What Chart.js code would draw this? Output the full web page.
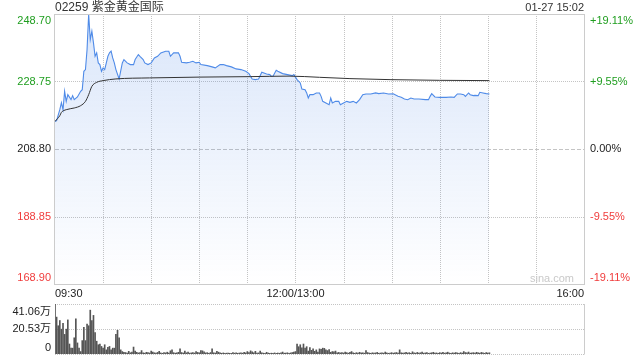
<!DOCTYPE html>
<html>
<head>
<meta charset="utf-8">
<script src="https://cdn.jsdelivr.net/npm/chart.js@4.4.1/dist/chart.umd.min.js"></script>
<style>
  body { margin: 0; background: #fff; }
  #wrap { position: relative; width: 640px; height: 360px; }
  canvas { position: absolute; left: 0; }
  #priceChart { top: 0; }
  #volumeChart { top: 300px; }
</style>
</head>
<body>
<div id="wrap">
  <canvas id="priceChart" width="640" height="300"></canvas>
  <canvas id="volumeChart" width="640" height="60"></canvas>
</div>
<script>
const TITLE = "02259 紫金黄金国际";
const STAMP = "01-27 15:02";
const PREV_CLOSE = 208.80;

// minutes after 09:30, lunch break (12:00-13:00) taken out
const timeTicks = [0, 30, 60, 90, 120, 150, 180, 210, 240, 270, 300, 330];
const timeLabelMinutes = [0, 150, 330];
const timeLabelTexts = ["09:30", "12:00/13:00", "16:00"];

const priceTicks = [168.90, 188.85, 208.80, 228.75, 248.70];
const percentLabels = ["-19.11%", "-9.55%", "0.00%", "+9.55%", "+19.11%"];

const volumeTicks = [0, 20.53, 41.06];
const volumeLabels = ["0", "20.53万", "41.06万"];

const priceMinutes = [0,1,3,4,5,6,7,8,10,11,12,14,16,17,18,19,20,21,22,23,24,25,26,27,28,29,30,31,33,34,
  35,36,37,38,40,42,43,45,47,49,50,52,53,55,56,58,60,62,64,66,69,71,72,74,77,78,79,82,84,86,
  88,90,91,95,98,100,103,105,107,110,113,116,119,121,123,125,127,129,132,134,135,136,138,139,142,145,148,149,151,153,
  154,156,157,158,159,161,163,165,166,167,169,171,172,173,175,177,178,180,182,184,186,188,190,192,194,197,200,202,205,208,
  211,214,216,218,220,222,224,227,231,233,234,235,237,240,244,247,249,251,253,255,256,258,259,261,262,264,265,267,269,271];
const prices = [216.95,217.17,220.42,222.49,220.42,225.84,222.88,224.86,223.38,224.57,223.38,224.18,225.84,226.34,231.76,232.27,238.19,248.60,241.15,243.61,
  240.17,236.20,237.21,234.25,233.75,231.76,232.77,232.27,236.20,237.21,237.70,235.73,234.25,232.27,229.51,234.25,235.23,234.25,233.75,233.75,
  235.23,236.71,236.20,235.23,234.25,233.75,234.25,235.73,236.20,237.21,237.70,237.70,236.20,237.21,237.21,236.20,234.43,234.25,234.43,234.72,
  234.25,234.43,233.75,233.45,233.07,232.77,233.75,233.75,233.45,233.07,232.47,232.27,231.76,231.08,229.51,229.30,229.51,231.47,230.99,230.79,
  230.28,230.28,232.06,231.76,231.08,230.79,230.49,230.79,229.30,228.33,226.55,226.34,225.37,223.88,224.86,224.86,225.37,225.37,224.36,222.88,
  222.40,221.90,223.88,222.40,222.88,222.88,221.90,222.40,222.88,222.59,222.88,222.40,223.38,224.86,225.07,225.07,225.37,225.16,225.37,225.07,
  225.10,224.36,224.07,223.59,223.38,223.88,223.59,223.59,223.38,223.38,224.36,225.16,224.18,224.07,224.07,224.18,224.07,225.07,225.07,224.86,
  224.36,225.37,224.86,224.57,224.66,224.57,225.55,225.37,225.16,225.07];

const avgMinutes = [0,3,4,7,12,16,19,21,23,26,30,38,59,90,122,146,165,184,209,240,271];
const avgPrices = [216.95,218.65,219.62,220.42,220.92,221.61,222.88,224.86,227.32,228.50,229.01,229.51,229.81,230.05,230.19,230.34,229.99,229.60,229.30,229.10,229.01];

// volume per minute, in 万
const volumes = [
  41.06,30.3,23.2,27.5,20.4,25.2,16.1,20.4,28.0,8.2,4.8,4.8,13.3,28.9,9.1,4.8,2.0,11.0,21.8,11.0,
  24.6,23.2,36.0,27.5,31.7,17.6,10.5,7.6,8.2,6.2,4.8,7.6,3.4,5.4,6.2,3.4,4.8,4.8,16.1,19.5,
  13.3,3.4,2.0,1.4,1.2,0.8,2.2,1.0,1.6,5.7,2.4,1.4,0.9,1.2,2.8,1.0,0.7,1.4,1.1,0.8,
  2.4,1.6,1.0,0.8,1.3,2.2,0.9,0.6,1.2,0.9,1.5,0.8,2.6,3.4,1.1,0.7,1.0,1.4,4.2,1.2,
  0.8,2.4,1.0,1.6,0.7,0.9,1.2,0.8,2.0,1.3,1.0,2.8,2.6,1.8,0.9,1.1,0.6,1.2,4.2,1.0,
  0.8,2.2,1.5,1.0,0.6,0.9,0.5,0.7,0.8,0.6,0.5,1.1,0.7,0.9,0.6,0.8,1.0,0.7,1.4,0.9,
  2.0,1.2,2.6,1.8,1.0,2.2,0.8,0.9,2.4,1.0,0.7,0.6,1.4,0.8,0.5,0.7,0.6,0.9,0.5,0.8,
  0.6,0.9,1.6,0.7,0.8,1.0,0.6,0.9,1.2,1.5,2.0,8.2,6.0,7.6,5.0,8.2,4.8,6.0,2.4,5.2,
  3.0,4.2,2.2,3.4,1.6,4.2,3.8,4.8,4.6,3.4,2.8,3.6,1.4,2.0,1.8,2.4,1.0,1.3,0.9,1.2,
  0.8,1.6,1.1,0.7,1.3,2.0,0.9,0.6,1.1,0.8,1.4,0.9,1.0,0.7,2.8,1.2,0.8,0.6,1.0,0.7,
  0.9,1.3,0.6,0.8,1.0,0.7,1.6,0.9,0.6,0.8,1.1,0.7,0.9,1.2,0.8,3.4,1.0,0.7,0.9,1.4,
  0.8,1.1,0.6,1.8,0.9,0.7,1.3,0.8,1.0,1.6,0.7,0.9,1.2,0.6,0.8,1.0,1.4,0.7,0.9,0.6,
  1.1,0.8,1.3,0.7,0.9,1.5,0.8,0.6,1.0,0.7,1.2,0.9,0.6,1.1,0.8,2.0,1.2,0.9,1.6,0.7,
  0.9,1.1,0.8,1.4,1.0,0.7,1.3,0.9,0.6,1.2,0.8,1.0
];

const GREEN = '#1f9e1f';
const RED = '#f03c3c';
const DARK = '#222';
const GRID = '#c4c4c4';
const FRAME = '#cccccc';
const FONT = '11px "Liberation Sans", Arial, "Noto Sans CJK SC", sans-serif';
const TITLE_FONT = '12px "Liberation Sans", Arial, "Noto Sans CJK SC", sans-serif';

function tickColor(v) {
  if (v > PREV_CLOSE + 0.001) return GREEN;
  if (v < PREV_CLOSE - 0.001) return RED;
  return DARK;
}

function hLine(ctx, a, py, dash) {
  ctx.setLineDash(dash);
  ctx.beginPath();
  ctx.moveTo(a.left, py);
  ctx.lineTo(a.right, py);
  ctx.stroke();
}

const priceFrame = {
  id: 'priceFrame',
  beforeDatasetsDraw(chart) {
    const {ctx, chartArea: a, scales: {x, y}} = chart;
    ctx.save();
    ctx.strokeStyle = GRID;
    ctx.lineWidth = 1;
    timeTicks.slice(1, -1).forEach(t => {
      const px = Math.round(x.getPixelForValue(t)) + 0.5;
      ctx.setLineDash([1, 1]);
      ctx.beginPath();
      ctx.moveTo(px, a.top);
      ctx.lineTo(px, a.bottom);
      ctx.stroke();
    });
    priceTicks.slice(1, -1).forEach(v => {
      const py = Math.round(y.getPixelForValue(v)) + 0.5;
      hLine(ctx, a, py, v === PREV_CLOSE ? [4, 2] : [1, 1]);
    });
    ctx.restore();
  },
  afterDraw(chart) {
    const {ctx, chartArea: a, scales: {x, y}} = chart;
    ctx.save();
    ctx.setLineDash([]);
    ctx.strokeStyle = FRAME;
    ctx.lineWidth = 1;
    ctx.strokeRect(a.left - 0.5, a.top + 0.5, a.right - a.left + 1, a.bottom - a.top);

    ctx.font = FONT;
    ctx.textBaseline = 'middle';
    const last = priceTicks.length - 1;
    priceTicks.forEach((v, i) => {
      let py = y.getPixelForValue(v);
      if (i === 0) py -= 6;
      if (i === last) py += 6.5;
      ctx.fillStyle = tickColor(v);
      ctx.textAlign = 'right';
      ctx.fillText(v.toFixed(2), a.left - 4, py);
      ctx.textAlign = 'left';
      ctx.fillText(percentLabels[i], a.right + 6, py);
    });

    ctx.fillStyle = DARK;
    timeLabelMinutes.forEach((t, i) => {
      ctx.textAlign = i === 0 ? 'left' : (i === timeLabelMinutes.length - 1 ? 'right' : 'center');
      ctx.fillText(timeLabelTexts[i], x.getPixelForValue(t), a.bottom + 9.5);
    });

    ctx.fillStyle = '#333';
    ctx.textAlign = 'right';
    ctx.fillText(STAMP, a.right, 7.5);
    ctx.font = TITLE_FONT;
    ctx.textAlign = 'left';
    ctx.fillText(TITLE, a.left, 7.5);

    ctx.font = '11px "Liberation Sans", Arial, sans-serif';
    ctx.textAlign = 'right';
    ctx.fillStyle = '#c9c9c9';
    ctx.fillText('sina.com', a.right - 10, a.bottom - 5.5);
    ctx.restore();
  }
};

new Chart(document.getElementById('priceChart'), {
  type: 'line',
  data: {
    datasets: [
      {
        label: 'avg',
        data: avgMinutes.map((m, i) => ({x: m, y: avgPrices[i]})),
        borderColor: '#333',
        borderWidth: 1,
        pointRadius: 0,
        fill: false,
        cubicInterpolationMode: 'monotone',
        order: 0
      },
      {
        label: 'price',
        data: priceMinutes.map((m, i) => ({x: m, y: prices[i]})),
        borderColor: '#4f8be8',
        borderWidth: 1.1,
        pointRadius: 0,
        tension: 0,
        fill: 'start',
        backgroundColor(context) {
          const area = context.chart.chartArea;
          if (!area) return 'rgba(70,130,230,0.15)';
          const g = context.chart.ctx.createLinearGradient(0, area.top, 0, area.bottom);
          g.addColorStop(0, 'rgba(70,130,230,0.2)');
          g.addColorStop(1, 'rgba(70,130,230,0)');
          return g;
        },
        order: 1
      }
    ]
  },
  options: {
    responsive: false,
    devicePixelRatio: 1,
    animation: false,
    layout: {padding: {left: 55, right: 56, top: 14, bottom: 16}},
    scales: {
      x: {type: 'linear', min: 0, max: 330, display: false},
      y: {type: 'linear', min: priceTicks[0], max: priceTicks[priceTicks.length - 1], display: false}
    },
    plugins: {legend: {display: false}, tooltip: {enabled: false}}
  },
  plugins: [priceFrame]
});

const volumeFrame = {
  id: 'volumeFrame',
  beforeDatasetsDraw(chart) {
    const {ctx, chartArea: a, scales: {y}} = chart;
    ctx.save();
    ctx.strokeStyle = GRID;
    ctx.lineWidth = 1;
    volumeTicks.forEach(v => {
      const py = Math.round(y.getPixelForValue(v)) + 0.5;
      hLine(ctx, a, py, [1, 1]);
    });
    ctx.restore();
  },
  afterDraw(chart) {
    const {ctx, chartArea: a, scales: {y}} = chart;
    ctx.save();
    ctx.strokeStyle = FRAME;
    ctx.lineWidth = 1;
    ctx.beginPath();
    ctx.moveTo(a.right + 0.5, a.top);
    ctx.lineTo(a.right + 0.5, a.bottom + 0.5);
    ctx.stroke();

    ctx.font = FONT;
    ctx.textBaseline = 'middle';
    ctx.textAlign = 'right';
    ctx.fillStyle = DARK;
    const last = volumeTicks.length - 1;
    volumeTicks.forEach((v, i) => {
      let py = y.getPixelForValue(v);
      if (i === 0) py -= 6;
      if (i === last) py += 8;
      ctx.fillText(volumeLabels[i], a.left - 4, py);
    });
    ctx.restore();
  }
};

new Chart(document.getElementById('volumeChart'), {
  type: 'bar',
  data: {
    datasets: [{
      label: 'volume',
      data: volumes.map((v, i) => ({x: i, y: v})),
      backgroundColor: '#555',
      barThickness: 1
    }]
  },
  options: {
    responsive: false,
    devicePixelRatio: 1,
    animation: false,
    layout: {padding: {left: 55, right: 56, top: 4, bottom: 6}},
    scales: {
      x: {type: 'linear', min: 0, max: 330, offset: false, display: false},
      y: {type: 'linear', min: 0, max: volumeTicks[volumeTicks.length - 1], display: false}
    },
    plugins: {legend: {display: false}, tooltip: {enabled: false}}
  },
  plugins: [volumeFrame]
});
</script>
</body>
</html>
